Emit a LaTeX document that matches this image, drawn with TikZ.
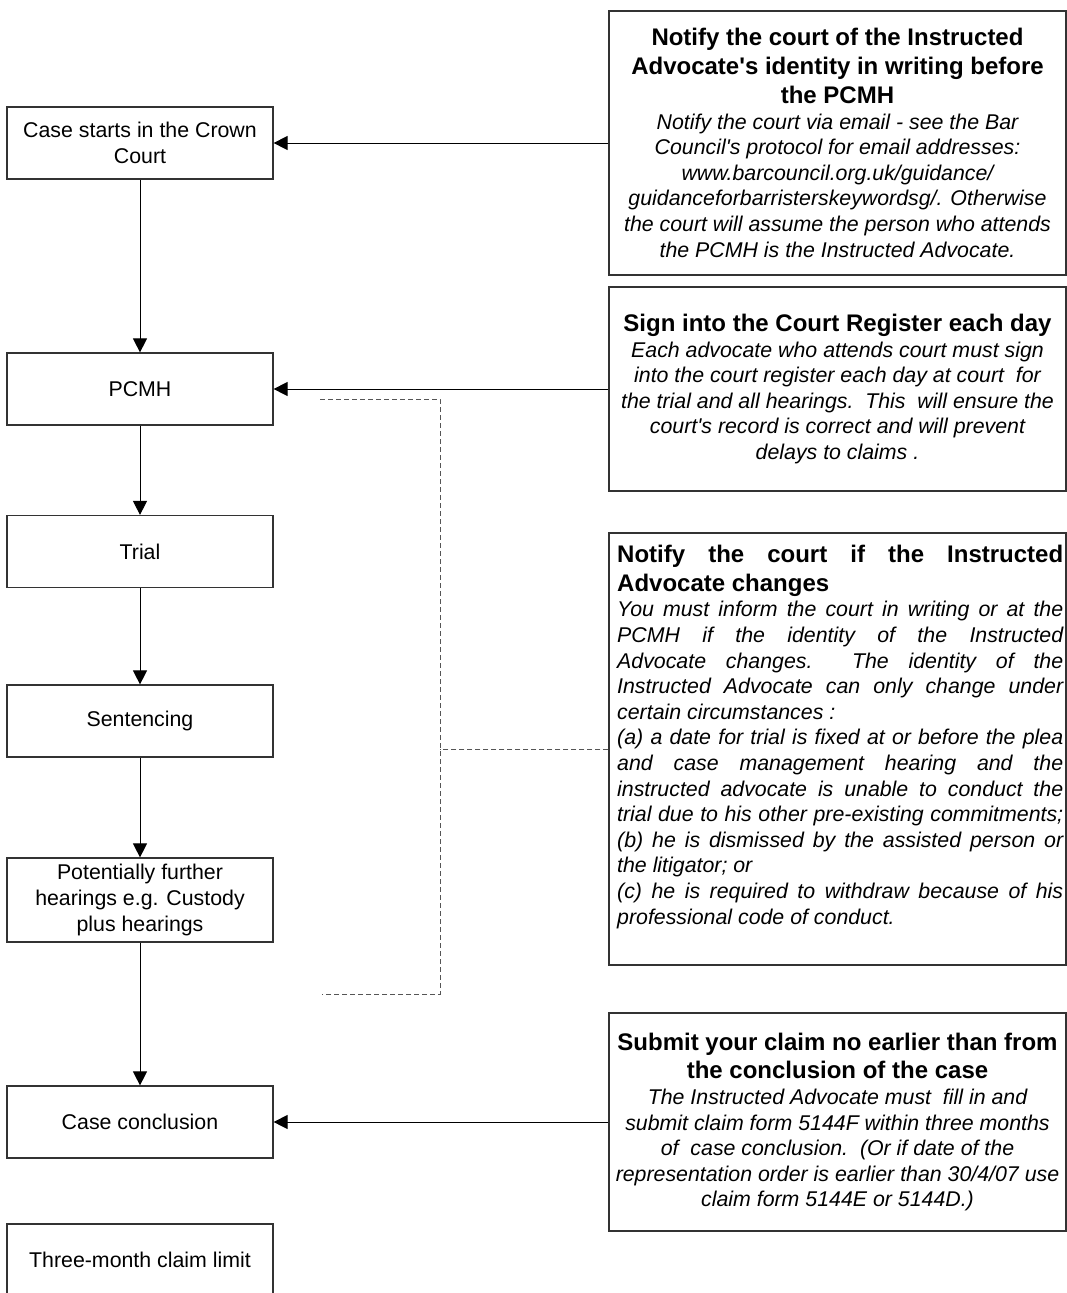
\documentclass[tikz,border=0pt]{standalone}
\usepackage{fontspec}
\setmainfont{Liberation Sans}
\usetikzlibrary{arrows.meta}
\definecolor{edge}{HTML}{333333}
\definecolor{dashc}{HTML}{555555}
\newcommand{\resetsp}{\spaceskip=0pt\xspaceskip=0pt\relax}
\newcommand{\ctr}{\leftskip=0pt plus 1fil\rightskip=0pt plus 1fil\parfillskip=0pt\relax}
\newcommand{\flushl}{\leftskip=0pt\rightskip=0pt plus 1fil\parfillskip=0pt plus 1fil\relax}
\newcommand{\titlef}{\fontsize{24}{28.8}\selectfont\bfseries\resetsp}
\newcommand{\bodyf}{\fontsize{21.33}{25.6}\selectfont\itshape\resetsp}
\newcommand{\plainf}{\fontsize{21.33}{25.6}\selectfont\resetsp}
\newcommand{\q}{\textquotesingle}
\newcommand{\jl}[1]{\makebox[446pt][s]{#1}}
\begin{document}
\begin{tikzpicture}[x=1pt,y=-1pt,
  lbox/.style={draw=edge, line width=1.2pt, minimum width=266pt, minimum height=72pt, text width=256pt, align=center, inner sep=0pt, font=\plainf, execute at begin node=\plainf\ctr},
  rbox/.style={draw=edge, line width=1.2pt, minimum width=457pt, text width=446pt, align=center, inner sep=0pt, execute at begin node=\ctr},
  conn/.style={draw=black, line width=1pt, -{Triangle[length=14pt,width=14pt]}},
  dashln/.style={draw=dashc, line width=1pt, dash pattern=on 5pt off 3pt}]
\useasboundingbox (0,0) rectangle (1067,1293);
\clip (0,0) rectangle (1067,1293);

% left column
\node[lbox] (n1) at (140,143) {Case starts in the Crown\\Court};
\node[lbox] (n2) at (140,389) {PCMH};
\node[lbox] (n3) at (140,551.5) {Trial};
\node[lbox] (n4) at (140,721) {Sentencing};
\node[lbox, minimum height=84pt] (n5) at (140,900) {Potentially further\\hearings e.g. Custody\\plus hearings};
\node[lbox] (n6) at (140,1122) {Case conclusion};
\node[lbox] (n7) at (140,1260) {Three-month claim limit};

% right column
\node[rbox, minimum height=264pt] (A) at (837.5,143) {%
{\titlef Notify the court of the Instructed\\Advocate\q s identity in writing before\\the PCMH\par}
{\bodyf Notify the court via email - see the Bar\\Council\q s protocol for email addresses:\\www.barcouncil.org.uk/guidance/\\guidanceforbarristerskeywordsg/. Otherwise\\the court will assume the person who attends\\the PCMH is the Instructed Advocate.\par}};

\node[rbox, minimum height=204pt] (B) at (837.5,389) {%
{\titlef Sign into the Court Register each day\par}
{\bodyf Each advocate who attends court must sign\\into the court register each day at court\ \ for\\the trial and all hearings.\ \ This\ \ will ensure the\\court\q s record is correct and will prevent\\delays to claims .\par}};

\node[rbox, minimum height=432pt] (C) at (837.5,749) {};
\node[anchor=north west, text width=446pt, align=left, inner sep=0pt, execute at begin node=\flushl] (Ct) at (617,545) {%
{\titlef\jl{Notify the court if the Instructed}\\Advocate changes\par}
{\bodyf\jl{You must inform the court in writing or at the}\\
\jl{PCMH if the identity of the Instructed}\\
\jl{Advocate changes.\ \ The identity of the}\\
\jl{Instructed Advocate can only change under}\\
certain circumstances :\\
\jl{(a) a date for trial is fixed at or before the plea}\\
\jl{and case management hearing and the}\\
\jl{instructed advocate is unable to conduct the}\\
\jl{trial due to his other pre-existing commitments;}\\
\jl{(b) he is dismissed by the assisted person or}\\
the litigator; or\\
\jl{(c) he is required to withdraw because of his}\\
professional code of conduct.\par}};

\node[rbox, minimum height=218pt] (D) at (837.5,1122) {%
{\titlef Submit your claim no earlier than from\\the conclusion of the case\par}
{\bodyf The Instructed Advocate must\ \ fill in and\\submit claim form 5144F within three months\\of\ \ case conclusion.\ \ (Or if date of the\\representation order is earlier than 30/4/07 use\\claim form 5144E or 5144D.)\par}};

% flow arrows
\draw[conn] (n1) -- (n2);
\draw[conn] (n2) -- (n3);
\draw[conn] (n3) -- (n4);
\draw[conn] (n4) -- (n5);
\draw[conn] (n5) -- (n6);

% arrows from notes
\draw[conn] (A.west) -- (n1.east);
\draw[conn] (B.west) -- (n2.east);
\draw[conn] (D.west) -- (n6.east);

% dashed bracket
\coordinate (bt) at (320,399);
\coordinate (vt) at (440,399);
\coordinate (vb) at (440,994);
\coordinate (bb) at (322,994);
\draw[dashln] (bt) -- (vt) -- (vb) -- (bb);
\draw[dashln] (C.west) -- (C.west -| vt);
\end{tikzpicture}
\end{document}
